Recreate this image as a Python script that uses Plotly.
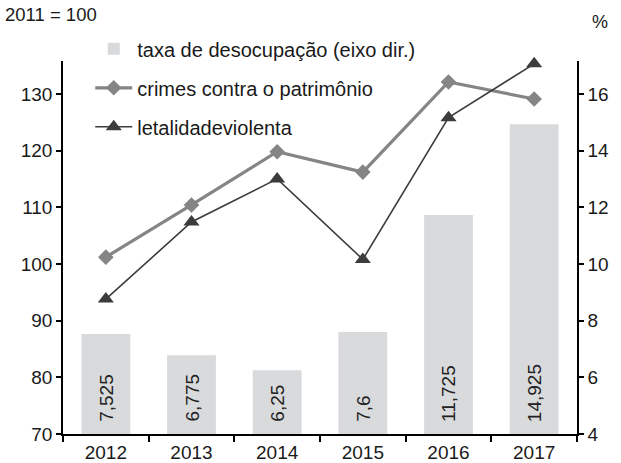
import plotly.graph_objects as go

years = ["2012", "2013", "2014", "2015", "2016", "2017"]
taxa_desocupacao = [7.525, 6.775, 6.25, 7.6, 11.725, 14.925]
crimes_patrimonio = [101.2, 110.4, 119.8, 116.2, 132.1, 129.1]
letalidade_violenta = [93.8, 107.4, 115.0, 100.8, 125.8, 135.3]
bar_labels = ["7,525", "6,775", "6,25", "7,6", "11,725", "14,925"]

FONT = "Liberation Sans, Arial, sans-serif"

fig = go.Figure()
fig.add_trace(go.Bar(
    x=years, y=taxa_desocupacao, name="taxa de desocupação (eixo dir.)",
    marker=dict(color="#d9dadc", line=dict(width=0)),
    yaxis="y", legendgroup="a",
))
fig.add_trace(go.Scatter(
    x=years, y=crimes_patrimonio, name="crimes contra o patrimônio",
    mode="lines+markers", line=dict(color="#858585", width=3.2),
    marker=dict(symbol="diamond", size=12, color="#858585"),
    yaxis="y2", legendgroup="b", cliponaxis=False,
))
fig.add_trace(go.Scatter(
    x=years, y=letalidade_violenta, name="letalidadeviolenta",
    mode="lines+markers", line=dict(color="#3c3c3c", width=1.6),
    marker=dict(symbol="triangle-up", size=14, color="#3c3c3c"),
    yaxis="y2", legendgroup="c", cliponaxis=False,
))

annotations = [
    dict(text="2011 = 100", xref="paper", yref="paper", x=-0.116, y=1.126,
         xanchor="left", yanchor="middle", showarrow=False, font=dict(size=18.5)),
    dict(text="%", xref="paper", yref="paper", x=1.045, y=1.105,
         xanchor="center", yanchor="middle", showarrow=False, font=dict(size=18)),
]
for i, lab in enumerate(bar_labels):
    annotations.append(dict(
        text=lab, x=i, y=4, xref="x", yref="y", textangle=-90,
        xanchor="center", yanchor="bottom", yshift=10, showarrow=False,
        font=dict(size=19, color="#222222"),
    ))

axis_common = dict(showline=True, linecolor="black", linewidth=1.5,
                   ticks="outside", tickcolor="black", tickwidth=1.5,
                   showgrid=False, zeroline=False, automargin=False,
                   tickfont=dict(size=19, color="#1a1a1a"))

fig.update_layout(
    template="none",
    width=621, height=463,
    margin=dict(l=63, r=44, t=61, b=29, pad=0),
    paper_bgcolor="white", plot_bgcolor="white",
    font=dict(family=FONT, size=19, color="#1a1a1a"),
    bargap=0.43,
    showlegend=True,
    legend=dict(x=0.053, y=1.085, xanchor="left", yanchor="top",
                bgcolor="rgba(0,0,0,0)", font=dict(size=20),
                traceorder="grouped", tracegroupgap=10, itemwidth=37),
    xaxis=dict(type="category", categoryorder="array", categoryarray=years,
               range=[-0.5, len(years) - 0.5], autorange=False,
               tickson="boundaries", ticklen=6, **axis_common),
    yaxis=dict(side="right", range=[4, 17.16], tickvals=[4, 6, 8, 10, 12, 14, 16],
               ticklen=5, **axis_common),
    yaxis2=dict(side="left", overlaying="y", range=[70, 135.8],
                tickvals=[70, 80, 90, 100, 110, 120, 130], ticklen=5, **axis_common),
    annotations=annotations,
)

fig.write_html("out.html", config={"displayModeBar": False},
               post_script="document.body.style.margin='0px';")
